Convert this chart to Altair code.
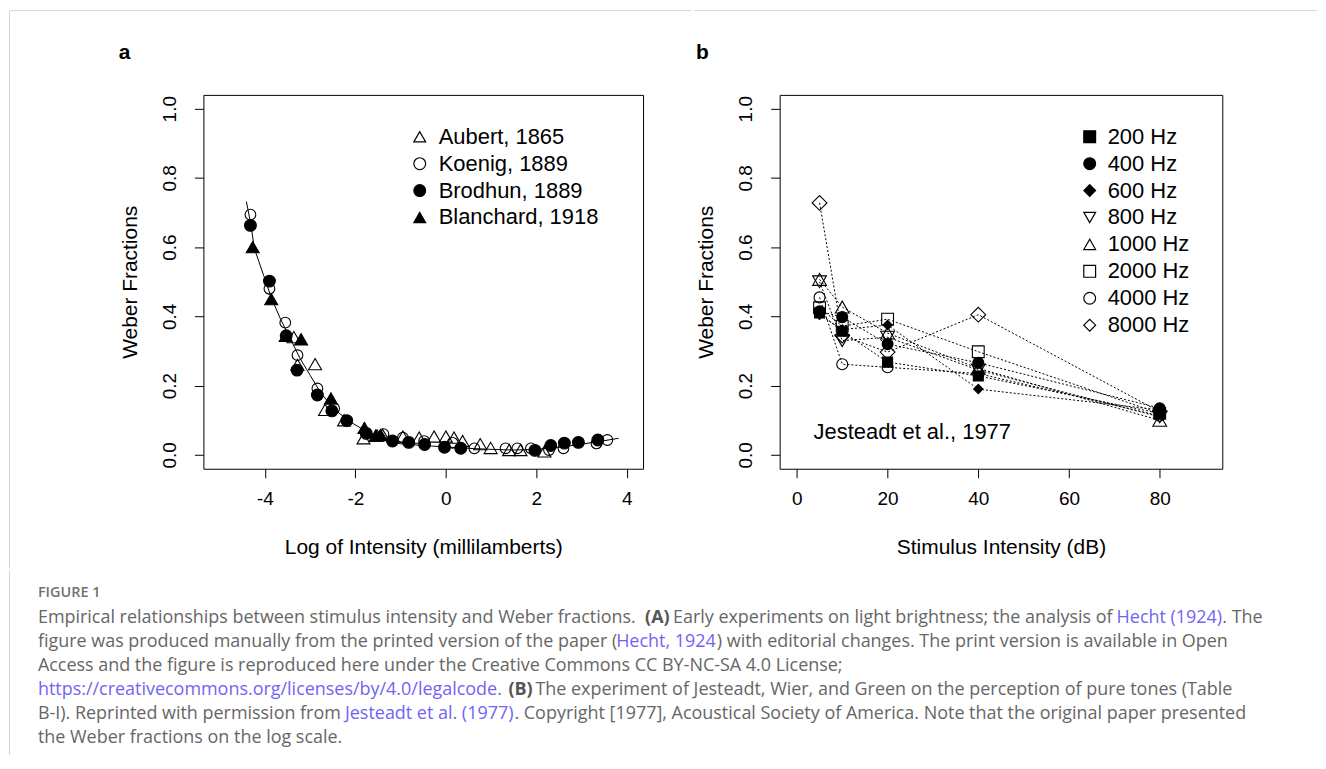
import altair as alt
import pandas as pd

# ---------------- panel a: Hecht (1924) light-brightness data ----------------
SERIES_A = ["Aubert, 1865", "Koenig, 1889", "Brodhun, 1889", "Blanchard, 1918"]

aubert_x = [-3.36, -3.28, -2.89, -2.67, -2.25, -1.82, -1.52, -1.40, -0.95, -0.59,
            -0.26, 0.00, 0.18, 0.37, 0.76, 0.99, 1.40, 1.65, 2.18]
aubert_y = [0.340, 0.260, 0.262, 0.130, 0.100, 0.048, 0.056, 0.058, 0.053, 0.050,
            0.053, 0.053, 0.050, 0.040, 0.031, 0.020, 0.014, 0.014, 0.010]

koenig_x = [-4.32, -3.90, -3.55, -3.28, -2.84, -2.47, -1.38, -0.95, -0.48, 0.15,
            0.63, 1.32, 1.58, 1.88, 2.28, 2.60, 3.33, 3.57]
koenig_y = [0.694, 0.480, 0.382, 0.288, 0.192, 0.134, 0.060, 0.050, 0.040, 0.035,
            0.019, 0.019, 0.019, 0.019, 0.014, 0.019, 0.033, 0.043]

brodhun_x = [-4.32, -3.90, -3.53, -3.29, -2.84, -2.52, -2.19, -1.76, -1.18, -0.82,
             -0.47, -0.03, 0.33, 1.97, 2.32, 2.62, 2.93, 3.36]
brodhun_y = [0.663, 0.502, 0.344, 0.245, 0.173, 0.127, 0.099, 0.062, 0.040, 0.036,
             0.030, 0.022, 0.019, 0.013, 0.027, 0.034, 0.036, 0.043]

blanchard_x = [-4.27, -3.86, -3.54, -3.20, -2.54, -1.80, -1.55, -1.44]
blanchard_y = [0.600, 0.450, 0.344, 0.334, 0.163, 0.078, 0.056, 0.057]

curve_x = [-4.41, -4.32, -4.23, -4.03, -3.85, -3.66, -3.44, -3.22, -3.00, -2.78,
           -2.49, -2.12, -1.75, -1.31, -1.01, -0.50, 0.00, 0.50, 1.00, 1.50,
           2.00, 2.50, 3.00, 3.50, 3.82]
curve_y = [0.732, 0.672, 0.595, 0.519, 0.451, 0.394, 0.336, 0.278, 0.230, 0.182,
           0.134, 0.096, 0.067, 0.043, 0.032, 0.027, 0.023, 0.019, 0.016, 0.014,
           0.016, 0.022, 0.031, 0.041, 0.048]

# ---------------- panel b: Jesteadt et al. (1977) pure tones ----------------
SERIES_B = ["200 Hz", "400 Hz", "600 Hz", "800 Hz", "1000 Hz", "2000 Hz", "4000 Hz", "8000 Hz"]
intensity_db = [5, 10, 20, 40, 80]
wf_200 = [0.410, 0.357, 0.268, 0.228, 0.120]
wf_400 = [0.415, 0.398, 0.320, 0.266, 0.135]
wf_600 = [0.405, 0.362, 0.375, 0.190, 0.130]
wf_800 = [0.500, 0.330, 0.340, 0.245, 0.110]
wf_1000 = [0.507, 0.427, 0.352, 0.250, 0.100]
wf_2000 = [0.425, 0.372, 0.392, 0.298, 0.120]
wf_4000 = [0.455, 0.262, 0.253, 0.235, 0.113]
wf_8000 = [0.728, 0.345, 0.297, 0.405, 0.125]

X_TICKS_A = [-4, -2, 0, 2, 4]
X_TICKS_B = [0, 20, 40, 60, 80]
Y_TICKS = [0.0, 0.2, 0.4, 0.6, 0.8, 1.0]

# ---------------- caption text ----------------
CAPTION_HEAD = "FIGURE 1"
CAPTION_LINES = [
    ["Empirical relationships between stimulus intensity and Weber fractions.", "(A)",
     "Early experiments on light brightness; the analysis of", "Hecht (1924)", ". The"],
    ["figure was produced manually from the printed version of the paper (", "Hecht, 1924",
     ") with editorial changes. The print version is available in Open"],
    ["Access and the figure is reproduced here under the Creative Commons CC BY-NC-SA 4.0 License;"],
    ["https://creativecommons.org/licenses/by/4.0/legalcode.", "(B)",
     "The experiment of Jesteadt, Wier, and Green on the perception of pure tones (Table"],
    ["B-I). Reprinted with permission from", "Jesteadt et al. (1977)",
     ". Copyright [1977], Acoustical Society of America. Note that the original paper presented"],
    ["the Weber fractions on the log scale."],
]
CAPTION_KIND = [["n", "b", "n", "l", "n"], ["n", "l", "n"], ["n"], ["l", "b", "n"], ["n", "l", "n"], ["n"]]

# ---------------- layout / style (not data) ----------------
FONT = "Liberation Sans"
CAP_FONT = "Open Sans"
CAP_SIZE = 18
PANEL_A_LEFT = 203      # page x of panel a plot area
CAPTION_TOP = 568       # page y of caption block
CAP_SEG_X = [[37, 646, 674, 1119, 1225], [37, 617, 718], [37], [37, 509, 536], [37, 345, 515], [37]]
CAP_LINE_Y = [616, 640, 664, 688, 712, 736]
CAP_HEAD_Y = 591

SHAPES_A = ["triangle-up", "circle", "circle", "triangle-up"]
FILLS_A = ["transparent", "transparent", "black", "black"]
SIZES_A = [170, 115, 140, 170]

SHAPES_B = ["square", "circle", "diamond", "triangle-down", "triangle-up", "square", "circle", "diamond"]
FILLS_B = ["black", "black", "black", "transparent", "transparent", "transparent", "transparent", "transparent"]
SIZES_B = [100, 121, 90, 190, 190, 140, 121, 220]

BORDER = "#d4d4d4"

# ---------------- build tables ----------------
rows = []
for name, xs, ys in zip(SERIES_A, [aubert_x, koenig_x, brodhun_x, blanchard_x],
                        [aubert_y, koenig_y, brodhun_y, blanchard_y]):
    sz = SIZES_A[SERIES_A.index(name)]
    for xv, yv in zip(xs, ys):
        rows.append({"series_a": name, "x": xv, "y": yv, "sz": sz})
df_a = pd.DataFrame(rows)
curve_df = pd.DataFrame({"x": curve_x, "y": curve_y})

rows = []
for name, ys in zip(SERIES_B, [wf_200, wf_400, wf_600, wf_800, wf_1000, wf_2000, wf_4000, wf_8000]):
    sz = SIZES_B[SERIES_B.index(name)]
    for xv, yv in zip(intensity_db, ys):
        rows.append({"series_b": name, "x": xv, "y": yv, "sz": sz})
df_b = pd.DataFrame(rows)

one = pd.DataFrame({"t": ["a"]})


def y_enc():
    return alt.Y("y:Q", scale=alt.Scale(domain=[-0.04, 1.04], nice=False, zero=False),
                 axis=alt.Axis(values=Y_TICKS, format=".1f", title="Weber Fractions",
                               labelAngle=270, labelAlign="center", labelBaseline="bottom",
                               labelPadding=15, titlePadding=20))


def x_enc(domain, ticks, title):
    return alt.X("x:Q", scale=alt.Scale(domain=domain, nice=False, zero=False),
                 axis=alt.Axis(values=ticks, title=title, labelPadding=12, titlePadding=28,
                               labelExpr="datum.value < 0 ? '-' + abs(datum.value) : '' + datum.value"))


def legend(lx, ly, off):
    return alt.Legend(orient="none", legendX=lx, legendY=ly, title=None, labelFont=FONT,
                      labelFontSize=22, labelColor="black", labelLimit=0, symbolSize=140,
                      symbolStrokeColor="black", symbolStrokeWidth=1.2, symbolOpacity=1,
                      rowPadding=5, labelOffset=off, padding=0)


def rule(x, y, x2=None, y2=None):
    enc = {"x": alt.value(x), "y": alt.value(y)}
    if x2 is not None:
        enc["x2"] = alt.value(x2)
    if y2 is not None:
        enc["y2"] = alt.value(y2)
    return alt.Chart(one).mark_rule(color=BORDER, strokeWidth=1).encode(**enc)


def letter(txt, x, y):
    return alt.Chart(pd.DataFrame({"t": [txt]})).mark_text(
        font=FONT, fontSize=21, fontWeight="bold", align="left", baseline="alphabetic",
        color="black").encode(x=alt.value(x), y=alt.value(y), text="t:N")


def point_layer(df, field, domain, shapes, fills, leg, xe):
    return alt.Chart(df).mark_point(filled=True, opacity=1, strokeWidth=1.1).encode(
        x=xe, y=y_enc(),
        shape=alt.Shape(f"{field}:N", scale=alt.Scale(domain=domain, range=shapes), legend=leg),
        fill=alt.Fill(f"{field}:N", scale=alt.Scale(domain=domain, range=fills), legend=leg),
        stroke=alt.Stroke(f"{field}:N", scale=alt.Scale(domain=domain, range=["black"] * len(domain)),
                          legend=leg),
        size=alt.Size("sz:Q", scale=None),
    )


# ---------------- panel a ----------------
xa = x_enc([-5.36, 4.36], X_TICKS_A, "Log of Intensity (millilamberts)")
leg_a = legend(206, 31, 8)
line_a = alt.Chart(curve_df).mark_line(color="black", strokeWidth=1).encode(x=xa, y=y_enc())
pts_a = point_layer(df_a, "series_a", SERIES_A, SHAPES_A, FILLS_A, leg_a, xa)
panel_a = alt.layer(
    rule(-194.5, -84.5, y2=475), rule(-194.5, -84.5, x2=489.5),
    line_a, pts_a, letter("a", -85, -36)
).properties(width=441, height=375)

# ---------------- panel b ----------------
xb = x_enc([-3.8, 93.8], X_TICKS_B, "Stimulus Intensity (dB)")
leg_b = legend(300, 31, 7)
lines_b = alt.Chart(df_b).mark_line(color="black", strokeWidth=1, strokeDash=[2, 2]).encode(
    x=xb, y=y_enc(), detail="series_b:N")
pts_b = point_layer(df_b, "series_b", SERIES_B, SHAPES_B, FILLS_B, leg_b, xb)
note_b = alt.Chart(pd.DataFrame({"t": ["Jesteadt et al., 1977"]})).mark_text(
    font=FONT, fontSize=22, align="left", baseline="alphabetic", color="black"
).encode(x=alt.value(34), y=alt.value(345), text="t:N")
panel_b = alt.layer(
    rule(-85.5, -84.5, x2=539), lines_b, pts_b, note_b, letter("b", -84, -36)
).properties(width=444, height=375)

# ---------------- caption ----------------
cap_rows = [{"text": CAPTION_HEAD, "x": 37 - PANEL_A_LEFT, "y": CAP_HEAD_Y - CAPTION_TOP, "kind": "h"}]
for segs, kinds, xs, ly in zip(CAPTION_LINES, CAPTION_KIND, CAP_SEG_X, CAP_LINE_Y):
    for s, k, xv in zip(segs, kinds, xs):
        cap_rows.append({"text": s, "x": xv - PANEL_A_LEFT, "y": ly - CAPTION_TOP, "kind": k})
cap_df = pd.DataFrame(cap_rows)


def cap_layer(kind, color, weight, size):
    return alt.Chart(cap_df).transform_filter(alt.datum.kind == kind).mark_text(
        font=CAP_FONT, fontSize=size, fontWeight=weight, color=color, align="left", baseline="middle"
    ).encode(x=alt.X("x:Q", scale=None, axis=None), y=alt.Y("y:Q", scale=None, axis=None), text="text:N")


caption = alt.layer(
    rule(-194.5, 0, y2=185),
    cap_layer("h", "#707070", 600, 14.5),
    cap_layer("n", "#666666", 400, CAP_SIZE),
    cap_layer("b", "#555555", 700, CAP_SIZE),
    cap_layer("l", "#7264f2", 400, CAP_SIZE),
).properties(width=1100, height=185, view=alt.ViewBackground(stroke="transparent"))

top = alt.hconcat(panel_a, panel_b, spacing=0).resolve_scale(
    shape="independent", fill="independent", stroke="independent")

chart = alt.vconcat(top, caption, spacing=0).properties(padding=0).configure_view(
    stroke="black", strokeWidth=1
).configure_axis(
    domain=False, grid=False, tickColor="black", tickWidth=1, tickSize=9,
    labelFont=FONT, labelFontSize=19, labelColor="black",
    titleFont=FONT, titleFontSize=21, titleFontWeight="normal", titleColor="black",
)

chart.save("out.html", embed_options={"renderer": "svg", "actions": False})
